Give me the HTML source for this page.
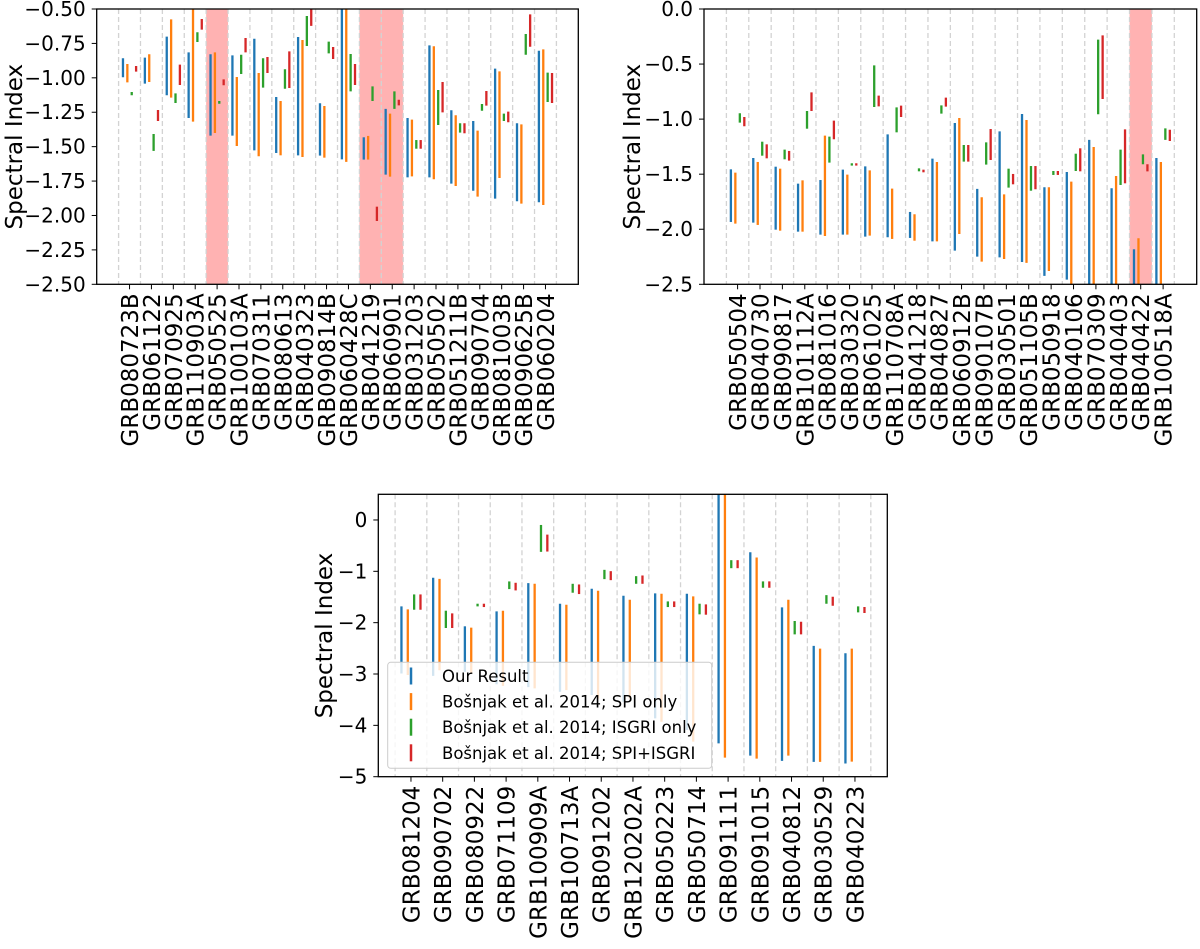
<!DOCTYPE html>
<html><head><meta charset="utf-8">
<style>
html,body{margin:0;padding:0;background:#fff;}
svg{display:block;font-family:"DejaVu Sans","Liberation Sans",sans-serif;}
</style></head>
<body>
<svg id="fig" width="1200" height="949" viewBox="0 0 1200 949" xmlns="http://www.w3.org/2000/svg"></svg>
<script>
// ---------- Panel 1 data ----------
const p1Cats = ["GRB080723B","GRB061122","GRB070925","GRB110903A","GRB050525","GRB100103A","GRB070311","GRB080613","GRB040323","GRB090814B","GRB060428C","GRB041219","GRB060901","GRB031203","GRB050502","GRB051211B","GRB090704","GRB081003B","GRB090625B","GRB060204"];
const p1Our   = [[-0.858,-0.996],[-0.853,-1.042],[-0.701,-1.127],[-0.815,-1.292],[-0.829,-1.420],[-0.837,-1.420],[-0.716,-1.527],[-1.139,-1.546],[-0.703,-1.563],[-1.185,-1.565],[-0.40,-1.592],[-1.432,-1.594],[-1.226,-1.703],[-1.292,-1.723],[-0.764,-1.723],[-1.236,-1.769],[-1.314,-1.820],[-0.933,-1.878],[-1.330,-1.897],[-0.803,-1.904]];
const p1Spi   = [[-0.900,-1.033],[-0.829,-1.030],[-0.575,-1.144],[-0.40,-1.318],[-0.815,-1.401],[-0.994,-1.495],[-0.965,-1.570],[-1.168,-1.563],[-0.725,-1.575],[-1.205,-1.580],[-0.40,-1.611],[-1.422,-1.594],[-1.260,-1.718],[-1.304,-1.716],[-0.771,-1.737],[-1.272,-1.786],[-1.384,-1.863],[-0.953,-1.728],[-1.338,-1.914],[-0.793,-1.924]];
const p1Isgri = [[-1.103,-1.127],[-1.408,-1.531],[-1.113,-1.183],[-0.669,-0.740],[-1.168,-1.188],[-0.832,-0.972],[-0.858,-1.071],[-0.938,-1.079],[-0.551,-0.769],[-0.737,-0.822],[-0.827,-1.098],[-1.062,-1.168],[-1.098,-1.226],[-1.452,-1.515],[-1.088,-1.343],[-1.330,-1.398],[-1.190,-1.239],[-1.260,-1.314],[-0.682,-0.832],[-0.962,-1.176]];
const p1Both  = [[-0.914,-0.955],[-1.234,-1.314],[-0.904,-1.052],[-0.573,-0.650],[-1.011,-1.054],[-0.711,-0.815],[-0.849,-0.965],[-0.808,-1.074],[-0.40,-0.623],[-0.776,-0.863],[-0.900,-1.052],[-1.936,-2.040],[-1.159,-1.200],[-1.452,-1.515],[-1.030,-1.251],[-1.330,-1.403],[-1.096,-1.202],[-1.246,-1.323],[-0.539,-0.774],[-0.965,-1.183]];
const p1Shade = [4, 11, 12];
const p1Ticks = [-0.5,-0.75,-1.0,-1.25,-1.5,-1.75,-2.0,-2.25,-2.5];

// ---------- Panel 2 data ----------
const p2Cats = ["GRB050504","GRB040730","GRB090817","GRB101112A","GRB081016","GRB030320","GRB061025","GRB110708A","GRB041218","GRB040827","GRB060912B","GRB090107B","GRB030501","GRB051105B","GRB050918","GRB040106","GRB070309","GRB040403","GRB040422","GRB100518A"];
const p2Our   = [[-1.456,-1.934],[-1.353,-1.940],[-1.432,-2.004],[-1.586,-2.022],[-1.553,-2.049],[-1.459,-2.049],[-1.429,-2.067],[-1.138,-2.073],[-1.843,-2.079],[-1.359,-2.110],[-1.035,-2.194],[-1.634,-2.249],[-1.111,-2.255],[-0.953,-2.297],[-1.619,-2.424],[-1.480,-2.458],[-1.189,-2.7],[-1.628,-2.7],[-2.182,-2.7],[-1.353,-2.7]];
const p2Spi   = [[-1.486,-1.949],[-1.389,-1.961],[-1.450,-2.013],[-1.556,-2.022],[-1.150,-2.061],[-1.504,-2.049],[-1.465,-2.058],[-1.631,-2.088],[-1.864,-2.104],[-1.389,-2.110],[-0.990,-2.043],[-1.710,-2.294],[-1.683,-2.270],[-1.008,-2.306],[-1.619,-2.379],[-1.568,-2.7],[-1.253,-2.7],[-1.516,-2.7],[-2.082,-2.7],[-1.389,-2.7]];
const p2Isgri = [[-0.947,-1.032],[-1.205,-1.332],[-1.277,-1.365],[-0.926,-1.087],[-1.159,-1.395],[-1.401,-1.422],[-0.512,-0.890],[-0.893,-1.120],[-1.447,-1.474],[-0.875,-0.950],[-1.235,-1.386],[-1.211,-1.413],[-1.450,-1.622],[-1.426,-1.650],[-1.471,-1.507],[-1.314,-1.471],[-0.278,-0.956],[-1.277,-1.598],[-1.320,-1.410],[-1.084,-1.189]];
const p2Both  = [[-0.981,-1.065],[-1.229,-1.356],[-1.289,-1.377],[-0.757,-0.926],[-1.014,-1.183],[-1.401,-1.422],[-0.787,-0.884],[-0.878,-0.981],[-1.459,-1.483],[-0.805,-0.887],[-1.235,-1.386],[-1.090,-1.371],[-1.498,-1.592],[-1.426,-1.637],[-1.471,-1.507],[-1.265,-1.474],[-0.239,-0.817],[-1.093,-1.583],[-1.410,-1.474],[-1.096,-1.199]];
const p2Shade = [18];
const p2Ticks = [0.0,-0.5,-1.0,-1.5,-2.0,-2.5];

// ---------- Panel 3 data ----------
const p3Cats = ["GRB081204","GRB090702","GRB080922","GRB071109","GRB100909A","GRB100713A","GRB091202","GRB120202A","GRB050223","GRB050714","GRB091111","GRB091015","GRB040812","GRB030529","GRB040223"];
const p3Our   = [[-1.683,-2.99],[-1.126,-3.036],[-2.071,-2.958],[-1.780,-3.20],[-1.230,-3.256],[-1.631,-3.346],[-1.340,-3.41],[-1.476,-3.54],[-1.430,-3.864],[-1.437,-4.091],[0.8,-4.35],[-0.628,-4.589],[-1.702,-4.693],[-2.453,-4.712],[-2.595,-4.744]];
const p3Spi   = [[-1.741,-3.02],[-1.146,-2.926],[-2.097,-2.99],[-1.767,-3.23],[-1.243,-3.28],[-1.650,-3.314],[-1.379,-3.476],[-1.553,-3.476],[-1.437,-3.929],[-1.489,-4.317],[0.8,-4.628],[-0.731,-4.647],[-1.553,-4.589],[-2.505,-4.712],[-2.505,-4.706]];
const p3Isgri = [[-1.450,-1.748],[-1.767,-2.104],[-1.631,-1.683],[-1.197,-1.346],[-0.097,-0.621],[-1.243,-1.417],[-0.971,-1.152],[-1.094,-1.243],[-1.586,-1.696],[-1.631,-1.838],[-0.783,-0.939],[-1.197,-1.320],[-1.968,-2.227],[-1.463,-1.631],[-1.683,-1.799]];
const p3Both  = [[-1.450,-1.748],[-1.819,-2.104],[-1.631,-1.696],[-1.223,-1.372],[-0.285,-0.615],[-1.256,-1.443],[-0.997,-1.172],[-1.081,-1.243],[-1.586,-1.696],[-1.644,-1.845],[-0.783,-0.939],[-1.197,-1.320],[-1.981,-2.227],[-1.495,-1.670],[-1.696,-1.812]];
const p3Shade = [];
const p3Ticks = [0,-1,-2,-3,-4,-5];
const legendLabels = ["Our Result","Bošnjak et al. 2014; SPI only","Bošnjak et al. 2014; ISGRI only","Bošnjak et al. 2014; SPI+ISGRI"];

const COLORS = ["#1f77b4","#ff7f0e","#2ca02c","#d62728"];
const SERIES_NAMES = ["our-result","spi-only","isgri-only","spi-isgri"];
const NS = "http://www.w3.org/2000/svg";
const svg = document.getElementById("fig");

function mk(tag, attrs, parent){
  const e = document.createElementNS(NS, tag);
  for (const k in attrs) e.setAttribute(k, attrs[k]);
  (parent||svg).appendChild(e);
  return e;
}

function panel(cfg){
  const g = mk("g", {});
  
  
  const {L,R,T,B,xmin,xmax,ymin,ymax} = cfg;
  const sx = v => L + (v - xmin) / (xmax - xmin) * (R - L);
  const sy = v => T + (ymax - v) / (ymax - ymin) * (B - T);
  const cid = "clip-" + cfg.name;
  const cp = mk("clipPath", {id: cid}, g);
  mk("rect", {x:L, y:T, width:R-L, height:B-T}, cp);
  const plot = mk("g", {"clip-path": "url(#"+cid+")"}, g);
  
  
  cfg.shade.forEach(i => {
    const r = mk("rect", {x:sx(i-0.5), y:T, width:sx(i+0.5)-sx(i-0.5), height:B-T, fill:"#ff0000", "fill-opacity":"0.3"}, plot);
    
    
  });
  for (let i = 0; i <= cfg.cats.length; i++) {
    const x = sx(i - 0.5);
    const l = mk("line", {x1:x, x2:x, y1:T, y2:B, stroke:"#d3d3d3", "stroke-width":"1.3", "stroke-dasharray":"5,3"}, plot);
    
    
  }
  const series = [cfg.our, cfg.spi, cfg.isgri, cfg.both];
  const offs = [-0.3,-0.1,0.1,0.3];
  series.forEach((arr, s) => {
    arr.forEach((d, i) => {
      const x = sx(i + offs[s]);
      const l = mk("line", {x1:x, x2:x, y1:sy(d[0]), y2:sy(d[1]), stroke:COLORS[s], "stroke-width":"2.3"}, plot);
      
      
    });
  });
  const fr = mk("rect", {x:L, y:T, width:R-L, height:B-T, fill:"none", stroke:"#000", "stroke-width":"1.3"}, g);
  
  
  cfg.yticks.forEach(v => {
    const y = sy(v);
    mk("line", {x1:L-5, x2:L, y1:y, y2:y, stroke:"#000", "stroke-width":"1"}, g);
    const t = mk("text", {x:L-11, y:y+7, "text-anchor":"end", "font-size":"20", fill:"#000"}, g);
    t.textContent = cfg.fmt(v).replace("-", "\u2212");
    
    
  });
  cfg.cats.forEach((c, i) => {
    const x = sx(i);
    mk("line", {x1:x, x2:x, y1:B, y2:B+5, stroke:"#000", "stroke-width":"1"}, g);
    const t = mk("text", {x:0, y:0, "text-anchor":"end", "font-size":"23", fill:"#000", transform:"translate("+(x+8.5)+","+(B+9)+") rotate(-90)"}, g);
    t.textContent = c;
    
    
  });
  const yl = mk("text", {x:0, y:0, "text-anchor":"middle", "font-size":"23", fill:"#000", transform:"translate("+(cfg.ylx)+","+((T+B)/2)+") rotate(-90)"}, g);
  yl.textContent = "Spectral Index";
  
  
  return {sx, sy, g};
}

panel({name:"panel-1", L:96.7, R:578.3, T:9, B:284.3, xmin:-1.5, xmax:20.5, ymin:-2.5, ymax:-0.5,
  cats:p1Cats, our:p1Our, spi:p1Spi, isgri:p1Isgri, both:p1Both, shade:p1Shade, yticks:p1Ticks,
  fmt:v=>v.toFixed(2), ylx:22});
panel({name:"panel-2", L:704, R:1196.7, T:9, B:284.3, xmin:-1.5, xmax:20.5, ymin:-2.5, ymax:0,
  cats:p2Cats, our:p2Our, spi:p2Spi, isgri:p2Isgri, both:p2Both, shade:p2Shade, yticks:p2Ticks,
  fmt:v=>v.toFixed(1), ylx:640});
panel({name:"panel-3", L:378.3, R:887.3, T:494.3, B:776.7, xmin:-1.03, xmax:15.02, ymin:-5, ymax:0.5,
  cats:p3Cats, our:p3Our, spi:p3Spi, isgri:p3Isgri, both:p3Both, shade:p3Shade, yticks:p3Ticks,
  fmt:v=>String(v), ylx:332});

const lg = mk("g", {});


mk("rect", {x:387.7, y:662.3, width:324, height:106, rx:3, fill:"#fff", "fill-opacity":"0.8", stroke:"#cccccc", "stroke-width":"1"}, lg);
legendLabels.forEach((lab, k) => {
  const cy = 676 + k * 25.6;
  const e = mk("g", {}, lg);
  
  
  mk("line", {x1:411, x2:411, y1:cy-8.5, y2:cy+8.5, stroke:COLORS[k], "stroke-width":"2.5"}, e);
  const t = mk("text", {x:442, y:cy+6, "font-size":"16.5", fill:"#000"}, e);
  t.textContent = lab;
});
</script>
</body></html>
